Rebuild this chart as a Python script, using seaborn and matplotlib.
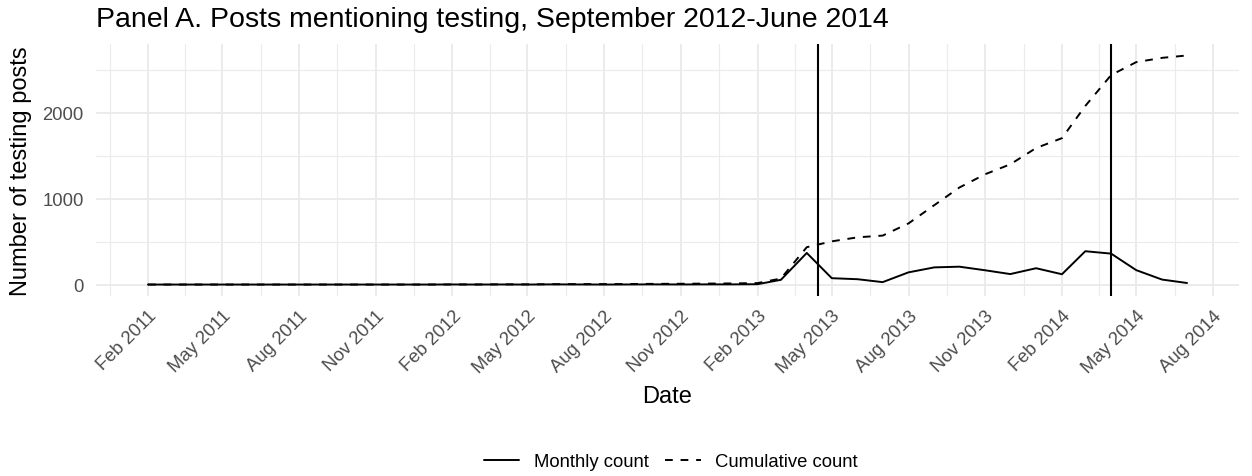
import pandas as pd
import matplotlib
matplotlib.use("Agg")
import matplotlib.pyplot as plt
import matplotlib.dates as mdates
import matplotlib.ticker as mticker
from matplotlib.lines import Line2D
import seaborn as sns

# monthly observations, Feb 2011 - Jul 2014
months = pd.date_range("2011-02-01", "2014-07-01", freq="MS")

monthly_count = [
    0, 0, 0, 0, 0, 0, 0, 0, 0, 0, 0,                 # Feb-Dec 2011
    0, 1, 0, 1, 0, 2, 1, 0, 1, 2, 1, 2,              # 2012
    2, 4, 55, 368, 74, 62, 28, 142, 200, 208, 166, 122,  # 2013
    190, 120, 388, 360, 168, 58, 18,                 # Jan-Jul 2014
]
cumulative_count = [
    0, 0, 0, 0, 0, 0, 0, 0, 0, 0, 0,
    0, 1, 1, 2, 2, 4, 5, 5, 6, 8, 9, 11,
    13, 17, 70, 435, 503, 550, 570, 712, 925, 1130, 1285, 1400,
    1590, 1705, 2080, 2440, 2590, 2640, 2668,
]
event_dates = ["2013-04-15", "2014-04-01"]

series_names = ["Monthly count", "Cumulative count"]

df = pd.concat([
    pd.DataFrame({"Date": months, "count": monthly_count, "series": series_names[0]}),
    pd.DataFrame({"Date": months, "count": cumulative_count, "series": series_names[1]}),
])

sns.set_theme(style="white")
plt.rcParams["font.family"] = ["Liberation Sans", "DejaVu Sans"]
plt.rcParams["text.color"] = "black"
plt.rcParams["axes.labelcolor"] = "black"

fig = plt.figure(figsize=(12.52, 4.77), dpi=100)
ax = fig.add_axes([96 / 1252, 1 - 297 / 477, (1239 - 96) / 1252, (297 - 45) / 477])

sns.lineplot(data=df, x="Date", y="count", style="series", style_order=series_names,
             dashes={"Monthly count": "", "Cumulative count": (4, 4)},
             color="black", linewidth=1.4, estimator=None, ax=ax, legend=False)

for d in event_dates:
    ax.axvline(pd.Timestamp(d), color="black", linewidth=1.5)

# ggplot-like 5% expansion
ymax = max(cumulative_count)
ax.set_ylim(-0.05 * ymax, 1.05 * ymax)

# ticks and grid
majors = pd.date_range("2010-11-01", "2014-11-01", freq="3MS")
maj_num = mdates.date2num(majors)
minors = (maj_num[:-1] + maj_num[1:]) / 2
ax.xaxis.set_major_locator(mdates.MonthLocator(bymonth=[2, 5, 8, 11]))
ax.xaxis.set_major_formatter(mdates.DateFormatter("%b %Y"))
ax.xaxis.set_minor_locator(mticker.FixedLocator(minors))
ax.yaxis.set_major_locator(mticker.FixedLocator([0, 1000, 2000]))
ax.yaxis.set_minor_locator(mticker.FixedLocator([500, 1500, 2500]))

ax.grid(which="major", color="#EBEBEB", linewidth=1.4)
ax.grid(which="minor", color="#EBEBEB", linewidth=0.8)
ax.set_axisbelow(True)
for s in ax.spines.values():
    s.set_visible(False)

ax.tick_params(axis="both", which="both", length=0, labelsize=13.3, labelcolor="#4D4D4D")
ax.tick_params(axis="y", pad=9)
ax.tick_params(axis="x", pad=8)
for lab in ax.get_xticklabels():
    lab.set_rotation(45)
    lab.set_ha("right")
    lab.set_va("top")
    lab.set_rotation_mode("anchor")

ax.set_xlabel("Date", fontsize=17, labelpad=6)
ax.set_ylabel("Number of testing posts", fontsize=17, labelpad=7)
ax.set_title("Panel A. Posts mentioning testing, September 2012-June 2014",
             loc="left", fontsize=20.5, pad=13)

# legend at the bottom
handles = [Line2D([], [], color="black", linewidth=1.4),
           Line2D([], [], color="black", linewidth=1.4, dashes=(4, 4))]
fig.legend(handles, series_names, loc="center", bbox_to_anchor=(671 / 1252, 1 - 463 / 477),
           ncol=2, frameon=False, fontsize=13.3, handlelength=1.9, handletextpad=0.8,
           columnspacing=0.9)

fig.savefig("out.png", dpi=100)
